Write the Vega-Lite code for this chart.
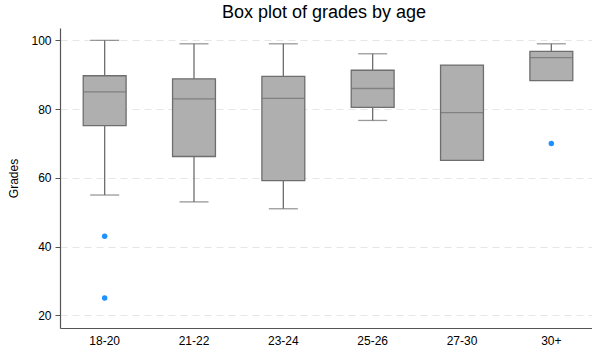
{
  "$schema": "https://vega.github.io/schema/vega-lite/v6.json",
  "autosize": "none",
  "width": 536,
  "height": 300,
  "padding": {"left": 60, "top": 28, "right": 0, "bottom": 21},
  "background": "white",
  "title": {"text": "Box plot of grades by age", "font": "Liberation Sans", "fontSize": 18, "fontWeight": "normal", "color": "#000000", "anchor": "middle", "offset": 6, "frame": "group", "dx": -4},
  "config": {
    "view": {"stroke": null},
    "font": "Liberation Sans",
    "axis": {"labelFont": "Liberation Sans", "titleFont": "Liberation Sans", "labelColor": "#000000", "titleColor": "#000000", "labelFontSize": 12, "titleFontSize": 12, "titleFontWeight": "normal"}
  },
  "datasets": {
    "boxes": [
      {"age": "18-20", "lower": 55, "q1": 75.2, "median": 85, "q3": 89.7, "upper": 100},
      {"age": "21-22", "lower": 53, "q1": 66.2, "median": 83, "q3": 88.8, "upper": 99},
      {"age": "23-24", "lower": 51, "q1": 59.2, "median": 83.1, "q3": 89.5, "upper": 99},
      {"age": "25-26", "lower": 76.7, "q1": 80.5, "median": 86, "q3": 91.3, "upper": 96.1},
      {"age": "27-30", "lower": 65.1, "q1": 65.1, "median": 79, "q3": 92.8, "upper": 92.8},
      {"age": "30+", "lower": 88.3, "q1": 88.3, "median": 95, "q3": 96.8, "upper": 99}
    ],
    "outliers": [
      {"age": "18-20", "grade": 43},
      {"age": "18-20", "grade": 25},
      {"age": "30+", "grade": 70}
    ]
  },
  "encoding": {
    "x": {
      "field": "age", "type": "nominal",
      "sort": ["18-20", "21-22", "23-24", "25-26", "27-30", "30+"],
      "scale": {"domain": ["18-20", "21-22", "23-24", "25-26", "27-30", "30+"], "paddingInner": 0, "paddingOuter": 0},
      "axis": {"title": null, "labelAngle": 0, "ticks": false, "domainColor": "#555555", "domainWidth": 1.2, "labelPadding": 7, "grid": false}
    }
  },
  "layer": [
    {
      "data": {"name": "boxes"},
      "mark": {"type": "rule", "color": "#6e6e6e", "strokeWidth": 1.3},
      "encoding": {
        "y": {"field": "lower", "type": "quantitative",
          "scale": {"domain": [16.3, 103.6], "nice": false, "zero": false},
          "axis": {"title": "Grades", "values": [20, 40, 60, 80, 100], "grid": true, "gridDash": [7, 5], "gridColor": "#e6e6e6", "gridWidth": 1, "domainColor": "#555555", "domainWidth": 1.2, "tickColor": "#555555", "tickSize": 5, "labelPadding": 4, "titlePadding": 10}},
        "y2": {"field": "upper"}
      }
    },
    {
      "data": {"name": "boxes"},
      "transform": [{"filter": "datum.lower < datum.q1"}],
      "mark": {"type": "tick", "color": "#6e6e6e", "size": 29, "thickness": 1.3, "orient": "horizontal"},
      "encoding": {"y": {"field": "lower", "type": "quantitative"}}
    },
    {
      "data": {"name": "boxes"},
      "transform": [{"filter": "datum.upper > datum.q3"}],
      "mark": {"type": "tick", "color": "#6e6e6e", "size": 29, "thickness": 1.3, "orient": "horizontal"},
      "encoding": {"y": {"field": "upper", "type": "quantitative"}}
    },
    {
      "data": {"name": "boxes"},
      "mark": {"type": "bar", "fill": "#afafaf", "stroke": "#6e6e6e", "strokeWidth": 1.3, "width": {"band": 0.48}},
      "encoding": {
        "y": {"field": "q1", "type": "quantitative"},
        "y2": {"field": "q3"}
      }
    },
    {
      "data": {"name": "boxes"},
      "mark": {"type": "tick", "color": "#6e6e6e", "size": 43, "thickness": 1.3, "orient": "horizontal"},
      "encoding": {"y": {"field": "median", "type": "quantitative"}}
    },
    {
      "data": {"name": "outliers"},
      "mark": {"type": "circle", "color": "#1e90ff", "opacity": 1, "size": 30},
      "encoding": {"y": {"field": "grade", "type": "quantitative"}}
    }
  ]
}
